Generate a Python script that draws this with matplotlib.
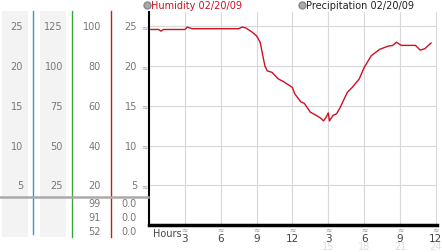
import matplotlib
matplotlib.use('Agg')
import matplotlib.pyplot as plt
from matplotlib import transforms
from matplotlib.lines import Line2D

# humidity readings, hours since midnight
hours = [0, 0.8, 1.0, 1.2, 2.5, 3.0, 3.2, 3.6, 3.8, 7.5, 7.8, 8.1, 8.4, 8.6, 9.0,
         9.3, 9.5, 9.7, 9.9, 10.3, 10.8, 11.3, 11.8, 12.0, 12.2, 12.7, 13.0, 13.5,
         14.1, 14.4, 14.6, 14.8, 15.0, 15.1, 15.4, 15.7, 16.0, 16.6, 17.0, 17.6,
         18.0, 18.6, 19.3, 20.0, 20.4, 20.7, 21.1, 22.3, 22.7, 23.1, 23.6]
humidity = [24.6, 24.6, 24.4, 24.6, 24.6, 24.6, 24.9, 24.7, 24.7, 24.7, 24.9, 24.8,
            24.5, 24.3, 23.8, 23.0, 21.5, 20.0, 19.4, 19.2, 18.4, 18.0, 17.5, 17.3,
            16.5, 15.5, 15.3, 14.2, 13.7, 13.4, 13.1, 13.5, 14.1, 13.1, 13.8, 14.0,
            14.8, 16.7, 17.3, 18.4, 19.8, 21.3, 22.1, 22.5, 22.6, 23.0, 22.6, 22.6,
            22.0, 22.2, 22.9]

yticks = [5, 10, 15, 20, 25]
col1_labels = ['5', '10', '15', '20', '25']
col2_labels = ['25', '50', '75', '100', '125']
col3_labels = ['20', '40', '60', '80', '100']
col4_labels = ['5', '10', '15', '20', '25']
stat_col3 = ['99', '91', '52']
stat_col4 = ['0.0', '0.0', '0.0']

xticks = [3, 6, 9, 12, 15, 18, 21, 24]
xtick_labels = ['3', '6', '9', '12', '3', '6', '9', '12']
xtick_sub = ['15', '18', '21', '24']

W, H = 442, 253
fig = plt.figure(figsize=(W / 100, H / 100), dpi=100)
fig.patch.set_facecolor('white')

def fx(px):
    return px / W

def fy(py):
    return 1 - py / H

ax = fig.add_axes([fx(149), fy(226), fx(437) - fx(149), fy(13) - fy(226)])
ax.set_xlim(0, 24.1)
ax.set_ylim(0, 26.8)
ax.set_xticks(xticks)
ax.set_yticks(yticks)
ax.grid(True, color='#d8d8d8', lw=0.8)
ax.tick_params(length=0, labelbottom=False, labelleft=False)
for s in ['top', 'right']:
    ax.spines[s].set_visible(False)
ax.spines['left'].set_linewidth(1.5)
ax.spines['bottom'].set_linewidth(2.5)

red = '#cc1122'
ax.plot(hours, humidity, color=red, lw=1.0)

tf = transforms.blended_transform_factory(fig.transFigure, ax.transData)
fs = 7
gray_txt = '#777777'

# left panel backgrounds
for x0, x1 in [(2, 28), (40, 66)]:
    fig.add_artist(plt.Rectangle((fx(x0), fy(238)), fx(x1) - fx(x0), fy(12) - fy(238),
                                 transform=fig.transFigure, color='#f3f3f3', lw=0, zorder=0))

# coloured separators
for xp, c, yb in [(33, '#3399cc', 235), (72, '#33aa33', 238), (111, '#bb2222', 238)]:
    fig.add_artist(Line2D([fx(xp), fx(xp)], [fy(12), fy(yb)], color=c, lw=1.0))

# gray horizontal rule
fig.add_artist(Line2D([0, fx(148)], [fy(197.5), fy(197.5)], color='#aaaaaa', lw=1.8))

for i, v in enumerate(yticks):
    fig.text(fx(23), v, col1_labels[i], transform=tf, ha='right', va='center',
             fontsize=fs, color=gray_txt)
    fig.text(fx(63), v, col2_labels[i], transform=tf, ha='right', va='center',
             fontsize=fs, color=gray_txt)
    fig.text(fx(101), v, col3_labels[i], transform=tf, ha='right', va='center',
             fontsize=fs, color=gray_txt)
    fig.text(fx(137), v, col4_labels[i], transform=tf, ha='right', va='center',
             fontsize=fs, color=gray_txt)
    fig.text(fx(144.5), v, '≈', transform=tf, ha='center', va='center',
             fontsize=5.5, color='#999999')

for i, py in enumerate([204, 218, 232]):
    fig.text(fx(101), fy(py), stat_col3[i], ha='right', va='center', fontsize=fs, color=gray_txt)
    fig.text(fx(137), fy(py), stat_col4[i], ha='right', va='center', fontsize=fs, color=gray_txt)

# x labels
tx = transforms.blended_transform_factory(ax.transData, fig.transFigure)
fig.text(fx(153), fy(234), 'Hours', ha='left', va='center', fontsize=fs, color='#444444')
for i, h in enumerate(xticks):
    fig.text(h, fy(230), '≈', transform=tx, ha='center', va='center', fontsize=5.5, color='#999999')
    fig.text(h, fy(239), xtick_labels[i], transform=tx, ha='center', va='center',
             fontsize=fs + 0.5, color='#444444')
for i, h in enumerate(xticks[4:]):
    fig.text(h, fy(247.5), xtick_sub[i], transform=tx, ha='center', va='center',
             fontsize=fs, color='#dddddd')

# legend
fig.add_artist(Line2D([fx(147)], [fy(6)], marker='o', markersize=5, color='#aaaaaa',
                      markeredgecolor='#888888', lw=0))
fig.text(fx(151), fy(6), 'Humidity 02/20/09', ha='left', va='center', fontsize=fs, color=red)
fig.add_artist(Line2D([fx(302)], [fy(6)], marker='o', markersize=5, color='#aaaaaa',
                      markeredgecolor='#888888', lw=0))
fig.text(fx(306), fy(6), 'Precipitation 02/20/09', ha='left', va='center', fontsize=fs, color='#222222')

fig.savefig('out.png', dpi=100)
